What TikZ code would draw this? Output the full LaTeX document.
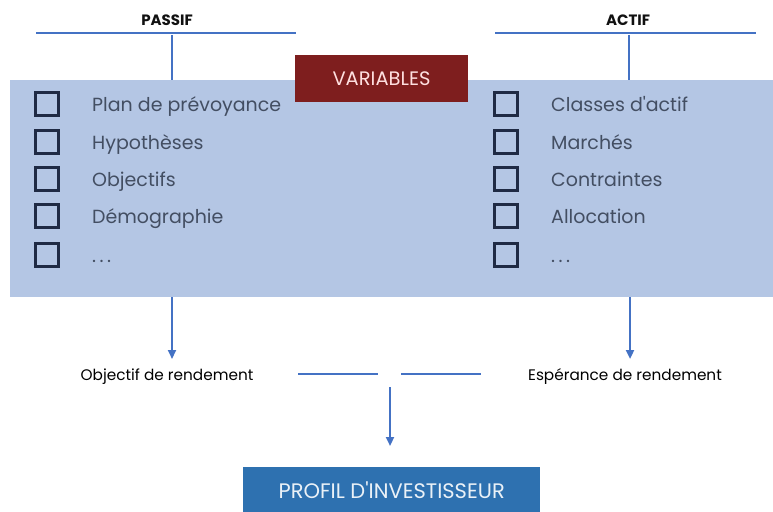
\documentclass[tikz,border=0pt]{standalone}
\usepackage{fontspec}
\setmainfont{Poppins}[Ligatures=TeXOff]
\usetikzlibrary{arrows.meta}
\newcommand\mydots{.\kern3.5pt.\kern3.5pt.}
\definecolor{panelc}{HTML}{B4C6E4}
\definecolor{redc}{HTML}{7E1E1E}
\definecolor{linec}{HTML}{4472C4}
\definecolor{profc}{HTML}{2E71B0}
\definecolor{itemc}{HTML}{434E62}
\definecolor{boxc}{HTML}{1F2A44}
\definecolor{headc}{HTML}{111111}
\tikzset{
  bar/.style={draw=linec, line width=2.2pt},
  arr/.style={draw=linec, line width=2.2pt, -{Triangle[length=9pt,width=8pt]}},
  cbox/.style={draw=boxc, line width=2.3pt, minimum size=23pt, inner sep=0pt},
  item/.style={anchor=base west, inner sep=0pt, text=itemc, font=\fontsize{19}{22}\selectfont},
  head/.style={inner sep=0pt, text=headc, font=\bfseries\fontsize{15}{17}\selectfont},
  small/.style={inner sep=0pt, text=black, font=\fontsize{15.3}{17}\selectfont},
}
\begin{document}
\begin{tikzpicture}[x=1pt,y=-1pt]
\useasboundingbox (0,0) rectangle (773,511);
% panel
\node[fill=panelc, minimum width=763pt, minimum height=217pt, inner sep=0pt, anchor=north west] (panel) at (10,80) {};
% headers
\node[head] (passif) at (167,20) {PASSIF};
\node[head] (actif) at (628,20) {ACTIF};
\coordinate (pl) at (36,33);
\coordinate (pr) at (296,33);
\coordinate (pm) at (172,35);
\coordinate (al) at (495,33);
\coordinate (ar) at (756,33);
\coordinate (am) at (629,35);
\draw[bar] (pl) -- (pr);
\draw[bar] (al) -- (ar);
\draw[bar] (pm) -- (pm |- panel.north);
\draw[bar] (am) -- (am |- panel.north);
% variables
\node[fill=redc, minimum width=173pt, minimum height=47pt, inner sep=0pt, text=white!88!red, font=\fontsize{19.5}{21}\selectfont] (var) at (381.5,78.5) {VARIABLES};
% left items
\foreach \i/\y/\t in {1/104/Plan de prévoyance, 2/142/Hypothèses, 3/179/Objectifs, 4/216/Démographie, 5/255/\mydots}{
  \node[cbox] (lb\i) at (47,\y) {};
  \node[item] (lt\i) at (92,\y+7) {\t};
}
\foreach \i/\y/\t in {1/104/Classes d'actif, 2/142/Marchés, 3/179/Contraintes, 4/216/Allocation, 5/255/\mydots}{
  \node[cbox] (rb\i) at (506,\y) {};
  \node[item] (rt\i) at (551,\y+7) {\t};
}
% results
\node[small] (obj) at (167,377) {Objectif de rendement};
\node[small] (esp) at (625,377) {Espérance de rendement};
\coordinate (objtip) at (172,359);
\coordinate (esptip) at (630,359);
\draw[arr] (objtip |- panel.south) -- (objtip);
\draw[arr] (esptip |- panel.south) -- (esptip);
\coordinate (m1a) at (298,374);
\coordinate (m1b) at (378,374);
\coordinate (m2a) at (401,374);
\coordinate (m2b) at (481,374);
\draw[bar] (m1a) -- (m1b);
\draw[bar] (m2a) -- (m2b);
% profil
\node[fill=profc, minimum width=297pt, minimum height=46pt, inner sep=0pt, anchor=north west, text=white!90!profc, font=\fontsize{21}{23}\selectfont] (prof) at (243,467) {PROFIL D'INVESTISSEUR};
\coordinate (dstart) at (390,387);
\draw[arr] (dstart) -- (dstart |- 0,446);
\end{tikzpicture}
\end{document}
